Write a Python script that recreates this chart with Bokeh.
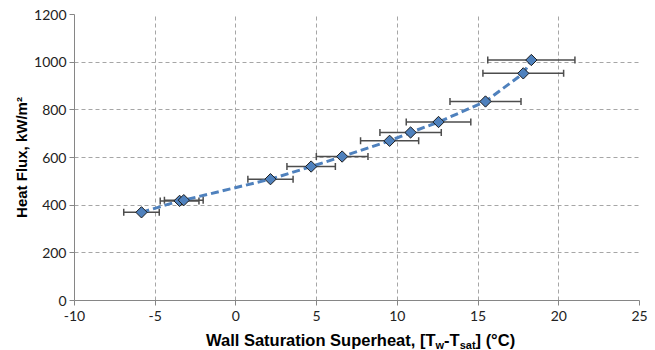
from bokeh.plotting import figure
from bokeh.models import (Range1d, Whisker, ColumnDataSource, FixedTicker, TeeHead, Div,
                          NumeralTickFormatter)
from bokeh.layouts import column
from bokeh.embed import file_html
from bokeh.resources import INLINE
import numpy as np

# Data
superheat = [-5.85, -3.49, -3.23, 2.14, 4.66, 6.58, 9.52, 10.82, 12.55, 15.46, 17.80, 18.30]
heat_flux = [370, 418, 421, 509, 562, 604, 670, 705, 749, 835, 953, 1009]
superheat_err = [1.1, 1.2, 1.2, 1.4, 1.5, 1.6, 1.8, 1.9, 2.0, 2.2, 2.5, 2.7]
x_ticks = [-10, -5, 0, 5, 10, 15, 20, 25]
y_ticks = [0, 200, 400, 600, 800, 1000, 1200]

lower = [x - e for x, e in zip(superheat, superheat_err)]
upper = [x + e for x, e in zip(superheat, superheat_err)]
src = ColumnDataSource(dict(x=superheat, y=heat_flux, lower=lower, upper=upper))

p = figure(width=655, height=328, x_range=Range1d(-10, 25), y_range=Range1d(0, 1200),
           output_backend="svg", toolbar_location=None,
           min_border_left=74, min_border_right=16, min_border_top=14, min_border_bottom=28)
p.outline_line_color = None
p.background_fill_color = "white"
p.border_fill_color = "white"

for ax in (p.xaxis, p.yaxis):
    ax.axis_line_color = "#868686"
    ax.major_tick_line_color = "#868686"
    ax.minor_tick_line_color = None
    ax.major_tick_out = 5
    ax.major_tick_in = 0
    ax.major_label_text_font = "Lato"
    ax.major_label_text_font_size = "14px"
    ax.major_label_text_color = "#222222"
    ax.formatter = NumeralTickFormatter(format="0")

p.xaxis.ticker = FixedTicker(ticks=x_ticks)
p.yaxis.ticker = FixedTicker(ticks=y_ticks)
p.xaxis.major_label_standoff = 5
p.yaxis.major_label_standoff = 3

p.xgrid.ticker = FixedTicker(ticks=x_ticks)
p.ygrid.ticker = FixedTicker(ticks=y_ticks)
for g in (p.xgrid, p.ygrid):
    g.grid_line_color = "#a6a6a6"
    g.grid_line_dash = "4 3"
    g.grid_line_width = 1

p.yaxis.axis_label = "Heat Flux, kW/m²"
p.yaxis.axis_label_text_font = "Liberation Sans"
p.yaxis.axis_label_text_font_style = "bold"
p.yaxis.axis_label_text_font_size = "15px"
p.yaxis.axis_label_text_color = "black"
p.yaxis.axis_label_standoff = 1

err_col = "#4d4d4d"
w = Whisker(source=src, base="y", lower="lower", upper="upper", dimension="width",
            line_color=err_col, line_width=1.5,
            upper_head=TeeHead(size=7, line_color=err_col, line_width=1.5),
            lower_head=TeeHead(size=7, line_color=err_col, line_width=1.5))
p.add_layout(w)

p.line("x", "y", source=src, line_color="#4F81BD", line_width=3, line_dash="8 4")
p.scatter("x", "y", source=src, marker="square", size=8, angle=np.pi / 4,
          fill_color="#4F81BD", line_color="#1c1c1c", line_width=1)

# x-axis title (with subscripts) as HTML text below the figure
xtitle = Div(
    text=('<div style="padding-left:201px;white-space:nowrap;line-height:15px;'
          'font-family:\'Liberation Sans\';font-weight:bold;font-size:16.5px;color:black">'
          'Wall Saturation Superheat, [T<span style="font-size:11px;position:relative;top:3px">w</span>'
          '-T<span style="font-size:11px;position:relative;top:3px">sat</span>] (°C)</div>'),
    width=655, height=22)

layout = column(p, xtitle, spacing=0)
open("out.html", "w").write(file_html(layout, INLINE))
